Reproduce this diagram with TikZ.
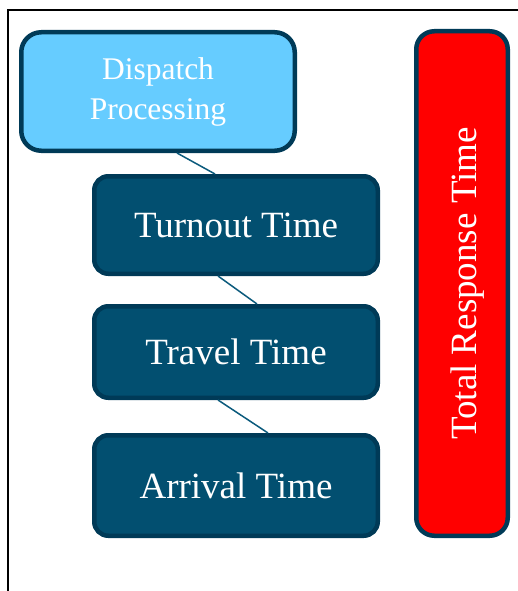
\documentclass[tikz,border=0pt]{standalone}
\usepackage{fontspec,tikz}
\setmainfont{Liberation Serif}

\definecolor{boxedge}{HTML}{003A57}
\definecolor{stagefill}{HTML}{024F70}
\definecolor{dispfill}{HTML}{66CCFF}
\definecolor{linkline}{HTML}{0B5A7C}
\definecolor{totalfill}{HTML}{FF0000}

\tikzset{
  stage/.style={draw=boxedge,line width=4.5pt,fill=stagefill,rounded corners=14pt,
    text=white,inner sep=0pt,align=center,font=\fontsize{37}{44}\selectfont},
  link/.style={draw=linkline,line width=1.5pt},
}

\begin{document}
\begin{tikzpicture}[x=1pt,y=-1pt]
\path[use as bounding box] (0,0) rectangle (518.0,591.0);
\draw[line width=1.2pt] (518,10) -- (8,10) -- (8,591);
% stages
\node[stage,fill=dispfill,rounded corners=20pt,minimum width=273.5pt,minimum height=118.5pt,
  font=\fontsize{31.5}{40}\selectfont] (disp) at (158,91.5) {Dispatch\\Processing};
\node[stage,minimum width=283.5pt,minimum height=97.5pt] (turn) at (236,225) {Turnout Time};
\node[stage,minimum width=283.5pt,minimum height=91.5pt] (trav) at (236,352) {Travel Time};
\node[stage,minimum width=283.5pt,minimum height=100.5pt] (arr) at (236,485.5) {Arrival Time};
\node[stage,fill=totalfill,rounded corners=18pt,rotate=90,minimum width=504.5pt,minimum height=91.5pt]
  (total) at (462,283.5) {\raisebox{-6pt}[25pt][8pt]{Total Response Time}};
% links
\draw[link] ([xshift=19pt]disp.south) -- ([xshift=-21pt]turn.north);
\draw[link] ([xshift=-18pt]turn.south) -- ([xshift=21pt]trav.north);
\draw[link] ([xshift=-18pt]trav.south) -- ([xshift=32pt]arr.north);
\end{tikzpicture}
\end{document}
